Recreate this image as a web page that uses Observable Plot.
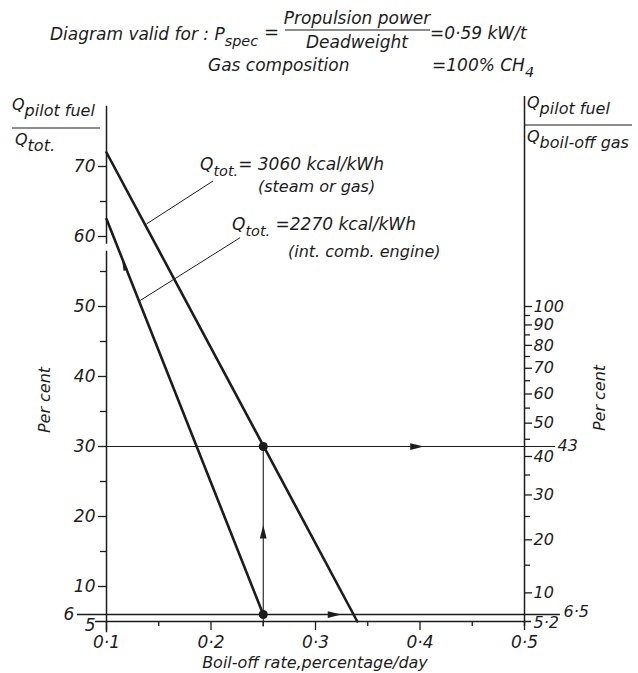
<!DOCTYPE html>
<html><head><meta charset="utf-8">
<script src="https://cdn.jsdelivr.net/npm/d3@7"></script>
<script src="https://cdn.jsdelivr.net/npm/@observablehq/plot@0.6"></script>
<style>body{margin:0;background:#fff}</style>
</head><body><div id="chart"></div>
<script>
// ---- data ----
const xTicks = [0.1, 0.2, 0.3, 0.4, 0.5];
const xMinorTicks = [0.15, 0.25, 0.35, 0.45];
const leftTicks = [10, 20, 30, 40, 50, 60, 70];
const leftMinorTicks = [15, 25, 35, 45, 55, 65];
const leftExtraLabels = [{p: 5, label: "5"}, {p: 6, label: "6"}];
const rightTicks = [10, 20, 30, 40, 50, 60, 70, 80, 90, 100];
const rightMinorTicks = [15, 25, 35, 45, 55, 65, 75, 85, 95];
const curveA = [{x: 0.1, p: 72}, {x: 0.34, p: 5}];     // Qtot = 3060 kcal/kWh
const curveB = [{x: 0.1, p: 62.5}, {x: 0.25, p: 6}];   // Qtot = 2270 kcal/kWh
const readPoints = [{x: 0.25, p: 30}, {x: 0.25, p: 6}];
const readResults = [{p: 30, label: "43"}, {p: 6, label: "6·5"}, {p: 5, label: "5·2"}];
const leaderLines = [
  {id: "A", x: 0.2016, p: 67.9}, {id: "A", x: 0.1384, p: 61.8},
  {id: "B", x: 0.2275, p: 59.8}, {id: "B", x: 0.1316, p: 50.8}
];
const arrowMarks = [
  {x: 0.25, p: 17.5, dir: "up"},
  {x: 0.395, p: 30, dir: "right"},
  {x: 0.316, p: 6, dir: "right"},
  {x: 0.1173, p: 55.6, dir: "alongB"}
];

// right axis: Qpilot/Qboil-off (%) = p/(100-p)*100  ->  p = 100 r/(100+r)
const toP = r => 100 * r / (100 + r);
const toR = p => 100 * p / (100 - p);

const K = "#1c1c1c";
const fmt = d => d3.format(".1f")(d).replace(".", "·");
const kx = 418 / 0.4, ky = 490 / 70;
const angleB = Math.atan2((curveB[0].x - curveB[1].x) * kx, (curveB[0].p - curveB[1].p) * ky) * 180 / Math.PI;
const rot = d => d.dir === "up" ? 0 : d.dir === "right" ? 90 : angleB;
const arrowHead = {
  draw(ctx, size) {
    const r = Math.sqrt(size / Math.PI);
    ctx.moveTo(0, -2 * r); ctx.lineTo(0.75 * r, r); ctx.lineTo(-0.75 * r, r); ctx.closePath();
  }
};
const blank = () => "";

const chart = Plot.plot({
  width: 638, height: 673,
  marginLeft: 106, marginRight: 114, marginTop: 131, marginBottom: 52,
  x: {domain: [0.1, 0.5]},
  y: {domain: [5, 75]},
  style: {fontFamily: "DejaVu Sans", fontStyle: "italic", fontSize: "16px", color: K, background: "white"},
  marks: [
    // axis lines
    Plot.ruleX([0.1], {y1: 3.4, y2: 57.9, stroke: K, strokeWidth: 1.5}),
    Plot.ruleX([0.1], {y1: 58.9, y2: 78.6, stroke: K, strokeWidth: 1.5}),
    Plot.ruleX([0.5], {y1: 4.3, y2: 80, stroke: K, strokeWidth: 1.5}),
    Plot.ruleY([5], {x1: 0.0895, x2: 0.5067, stroke: K, strokeWidth: 1.5}),
    // reading lines
    Plot.ruleY([6], {x1: 0.0722, x2: 0.5344, stroke: K, strokeWidth: 1.3}),
    Plot.ruleY([30], {x1: 0.1, x2: 0.5297, stroke: K, strokeWidth: 1}),
    Plot.ruleX([0.25], {y1: 4.2, y2: 30, stroke: K, strokeWidth: 1.1}),
    // curves
    Plot.line(curveA, {x: "x", y: "p", stroke: K, strokeWidth: 2.6}),
    Plot.line(curveB, {x: "x", y: "p", stroke: K, strokeWidth: 2.6}),
    Plot.line(leaderLines, {x: "x", y: "p", z: "id", stroke: K, strokeWidth: 1}),
    Plot.dot(readPoints, {x: "x", y: "p", r: 4.5, fill: K}),
    Plot.dot(arrowMarks.filter(d => d.dir !== "alongB"), {x: "x", y: "p", r: 4.5, symbol: arrowHead, rotate: rot, fill: K}),
    Plot.dot(arrowMarks.filter(d => d.dir === "alongB"), {x: "x", y: "p", r: 3, symbol: arrowHead, rotate: rot, fill: K}),
    // axes
    Plot.axisX(xTicks, {anchor: "bottom", tickSize: 9, tickPadding: 5, tickFormat: fmt, fontSize: 17, strokeWidth: 1.3, label: null}),
    Plot.axisX(xMinorTicks, {anchor: "bottom", tickSize: 5, tickFormat: blank, strokeWidth: 1.3, label: null}),
    Plot.axisY(leftTicks, {anchor: "left", tickSize: 8, tickPadding: 3, fontSize: 17, strokeWidth: 1.3, label: null}),
    Plot.axisY(leftMinorTicks, {anchor: "left", tickSize: 6, tickFormat: blank, strokeWidth: 1.3, label: null}),
    Plot.axisY(rightTicks.map(toP), {anchor: "right", tickSize: 7, tickPadding: 2, fontSize: 16,
      tickFormat: p => String(Math.round(toR(p))), strokeWidth: 1.3, label: null}),
    Plot.axisY(rightMinorTicks.map(toP), {anchor: "right", tickSize: 5, tickFormat: blank, strokeWidth: 1.3, label: null}),
    // extra value labels
    Plot.text([leftExtraLabels[1]], {x: 0.0722, y: "p", text: "label", textAnchor: "end", dx: -3, dy: 0, fontSize: 17, fill: K}),
    Plot.text([leftExtraLabels[0]], {x: 0.0895, y: "p", text: "label", textAnchor: "end", dx: 0, dy: 4, fontSize: 17, fill: K}),
    Plot.text([readResults[0]], {x: 0.5297, y: "p", text: "label", textAnchor: "start", dx: 2, dy: -1, fontSize: 16, fill: K}),
    Plot.text([readResults[1]], {x: 0.5344, y: "p", text: "label", textAnchor: "start", dx: 3, dy: -3, fontSize: 16, fill: K}),
    Plot.text([readResults[2]], {x: 0.5, y: "p", text: "label", textAnchor: "start", dx: 9, dy: 1, fontSize: 16, fill: K})
  ]
});
document.getElementById("chart").appendChild(chart);

// ---- annotations (titles, axis captions) ----
const svg = d3.select(chart);
const ann = svg.append("g").attr("fill", K).attr("font-family", "DejaVu Sans").attr("font-style", "italic");
function label(x, y, parts, size = 16, anchor = "start", rotate = 0, subScale = 0.85) {
  const t = ann.append("text").attr("x", x).attr("y", y).attr("font-size", size).attr("text-anchor", anchor);
  if (rotate) t.attr("transform", `rotate(${rotate},${x},${y})`);
  let shift = 0;
  for (const [s, sub] of parts) {
    const target = sub ? 6 : 0;
    t.append("tspan").attr("dy", target - shift).attr("font-size", sub ? size * subScale : size).text(s);
    shift = target;
  }
}
function bar(x1, x2, y) {
  ann.append("line").attr("x1", x1).attr("x2", x2).attr("y1", y).attr("y2", y).attr("stroke", K).attr("stroke-width", 1.2);
}
label(50, 40, [["Diagram valid for : P"], ["spec", 1]], 17);
label(264, 38, [["="]], 18);
label(357, 24, [["Propulsion power"]], 17, "middle");
bar(285, 430, 30);
label(357, 48, [["Deadweight"]], 17, "middle");
label(430, 39, [["=0·59 kW/t"]], 17);
label(208, 71, [["Gas composition"]], 17);
label(432, 71, [["=100% CH"], ["4", 1]], 17);

label(12, 110, [["Q"], ["pilot fuel", 1]], 16, "start", 0, 1);
bar(12, 100, 128);
label(15, 145, [["Q"], ["tot.", 1]], 16, "start", 0, 1);

label(527, 108, [["Q"], ["pilot fuel", 1]], 16, "start", 0, 1);
bar(525, 632, 125);
label(527, 142, [["Q"], ["boil-off gas", 1]], 16, "start", 0, 1);

label(200, 170, [["Q"], ["tot.", 1], ["= 3060 kcal/kWh"]], 17);
label(258, 192, [["(steam or gas)"]]);
label(232, 230, [["Q"], ["tot.", 1], [" =2270 kcal/kWh"]], 17);
label(288, 257, [["(int. comb. engine)"]]);

label(50, 400, [["Per cent"]], 16, "middle", -90);
label(605, 398, [["Per cent"]], 16, "middle", -90);
label(315, 668, [["Boil-off rate,percentage/day"]], 16, "middle");
</script>
</body></html>
